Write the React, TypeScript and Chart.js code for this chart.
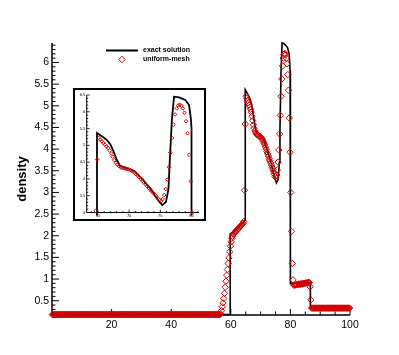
import React, { useEffect, useRef } from "react";
import { Chart, registerables } from "chart.js";

Chart.register(...registerables);

// ---------- data ----------
const xTicksMain = [20, 40, 60, 80, 100];
const yTicksMain = [0.5, 1, 1.5, 2, 2.5, 3, 3.5, 4, 4.5, 5, 5.5, 6];
const xTicksInset = [65, 70, 75, 80];
const yTicksInset = [3, 3.5, 4, 4.5, 5, 5.5, 6, 6.5];

// exact solution (polyline through read points)
const exactX = [0, 59.8, 59.8, 61.0, 62.5, 64.0, 64.85, 64.85, 65.8, 66.4, 67.0, 67.5, 68.0, 68.5, 69.5, 70.9, 72.2, 73.5, 74.6, 75.3, 75.9, 76.3, 76.5, 76.85, 77.2, 78.0, 79.0, 79.6, 79.9, 80.0, 80.0, 86.7, 86.7, 100];
const exactY = [0.18, 0.18, 2.04, 2.1, 2.19, 2.29, 2.36, 5.37, 5.25, 5.17, 5.03, 4.82, 4.58, 4.4, 4.33, 4.23, 3.98, 3.69, 3.37, 3.22, 3.31, 3.69, 4.48, 5.76, 6.45, 6.43, 6.35, 6.2, 5.8, 5.5, 0.9, 0.92, 0.33, 0.33];

// uniform mesh: cell width and the density read in each cell
const MESH_DX = 0.25;
const meshLeftStart = 0.125;
const meshLeft = [
  0.18, 0.18, 0.18, 0.18, 0.18, 0.18, 0.18, 0.18, 0.18, 0.18,
  0.18, 0.18, 0.18, 0.18, 0.18, 0.18, 0.18, 0.18, 0.18, 0.18,
  0.18, 0.18, 0.18, 0.18, 0.18, 0.18, 0.18, 0.18, 0.18, 0.18,
  0.18, 0.18, 0.18, 0.18, 0.18, 0.18, 0.18, 0.18, 0.18, 0.18,
  0.18, 0.18, 0.18, 0.18, 0.18, 0.18, 0.18, 0.18, 0.18, 0.18,
  0.18, 0.18, 0.18, 0.18, 0.18, 0.18, 0.18, 0.18, 0.18, 0.18,
  0.18, 0.18, 0.18, 0.18, 0.18, 0.18, 0.18, 0.18, 0.18, 0.18,
  0.18, 0.18, 0.18, 0.18, 0.18, 0.18, 0.18, 0.18, 0.18, 0.18,
  0.18, 0.18, 0.18, 0.18, 0.18, 0.18, 0.18, 0.18, 0.18, 0.18,
  0.18, 0.18, 0.18, 0.18, 0.18, 0.18, 0.18, 0.18, 0.18, 0.18,
  0.18, 0.18, 0.18, 0.18, 0.18, 0.18, 0.18, 0.18, 0.18, 0.18,
  0.18, 0.18, 0.18, 0.18, 0.18, 0.18, 0.18, 0.18, 0.18, 0.18,
  0.18, 0.18, 0.18, 0.18, 0.18, 0.18, 0.18, 0.18, 0.18, 0.18,
  0.18, 0.18, 0.18, 0.18, 0.18, 0.18, 0.18, 0.18, 0.18, 0.18,
  0.18, 0.18, 0.18, 0.18, 0.18, 0.18, 0.18, 0.18, 0.18, 0.18,
  0.18, 0.18, 0.18, 0.18, 0.18, 0.18, 0.18, 0.18, 0.18, 0.18,
  0.18, 0.18, 0.18, 0.18, 0.18, 0.18, 0.18, 0.18, 0.18, 0.18,
  0.18, 0.18, 0.18, 0.18, 0.18, 0.18, 0.18, 0.18, 0.18, 0.18,
  0.18, 0.18, 0.18, 0.18, 0.18, 0.18, 0.18, 0.18, 0.18, 0.18,
  0.18, 0.18, 0.18, 0.18, 0.18, 0.18, 0.18, 0.18, 0.18, 0.18,
  0.18, 0.18, 0.18, 0.18, 0.18, 0.18, 0.18, 0.18, 0.18, 0.18,
  0.18, 0.18, 0.18, 0.18, 0.18, 0.18, 0.18, 0.18, 0.18, 0.18,
  0.18, 0.18, 0.18, 0.18, 0.18, 0.18,
];
const meshMidStart = 56.625;
const meshMid = [
  0.20, 0.27, 0.36, 0.45, 0.55, 0.67, 0.81, 0.95, 1.09, 1.22,
  1.36, 1.49, 1.63, 1.76, 1.86, 1.94, 1.99, 2.03, 2.06, 2.08,
  2.10, 2.12, 2.14, 2.15, 2.17, 2.19, 2.21, 2.23, 2.25, 2.27,
  2.29, 2.33, 3.05, 4.58, 5.22, 5.17, 5.12, 5.07, 5.02, 4.97,
  4.92, 4.85, 4.76, 4.66, 4.56, 4.48, 4.42, 4.38, 4.35, 4.33,
  4.32, 4.31, 4.30, 4.29, 4.27, 4.25, 4.22, 4.18, 4.14, 4.10,
  4.05, 4.00, 3.94, 3.89, 3.84, 3.78, 3.73, 3.68, 3.63, 3.58,
  3.53, 3.48, 3.42, 3.37, 3.34, 3.40, 3.52, 3.70, 3.98, 4.35,
  4.78, 5.22, 5.62, 5.92, 6.10, 6.19, 6.21, 6.18, 6.10, 5.97,
  5.72, 5.36, 4.72, 3.93, 3.00, 2.10, 1.36, 0.98, 0.86, 0.86,
  0.86, 0.87, 0.87, 0.87, 0.88, 0.88, 0.88, 0.88, 0.89, 0.89,
  0.89, 0.90, 0.90, 0.90, 0.91, 0.91, 0.91, 0.92, 0.92, 0.92,
  0.82, 0.52,
];
const meshRightStart = 87.125;
const meshRight = [
  0.33, 0.33, 0.33, 0.33, 0.33, 0.33, 0.33, 0.33, 0.33, 0.33,
  0.33, 0.33, 0.33, 0.33, 0.33, 0.33, 0.33, 0.33, 0.33, 0.33,
  0.33, 0.33, 0.33, 0.33, 0.33, 0.33, 0.33, 0.33, 0.33, 0.33,
  0.33, 0.33, 0.33, 0.33, 0.33, 0.33, 0.33, 0.33, 0.33, 0.33,
  0.33, 0.33, 0.33, 0.33, 0.33, 0.33, 0.33, 0.33, 0.33, 0.33,
  0.33, 0.33,
];

// ---------- styling ----------
const RED = "#d40000";
const FONT = "'Liberation Sans', Arial, Helvetica, sans-serif";

function segmentPoints(start: number, values: number[]) {
  return values.map((y, i) => ({ x: start + i * MESH_DX, y }));
}
const meshPoints = [
  ...segmentPoints(meshLeftStart, meshLeft),
  ...segmentPoints(meshMidStart, meshMid),
  ...segmentPoints(meshRightStart, meshRight),
];
const exactPoints = exactX.map((x, i) => ({ x, y: exactY[i] }));

// axes drawn Tecplot-style: axis lines with inward major/minor ticks
const inwardAxes = {
  id: "inwardAxes",
  beforeDatasetsDraw(chart: any, _args: any, opts: any) {
    const { ctx, chartArea } = chart;
    const { left, right, top, bottom } = chartArea;
    const xs = chart.scales.x;
    const ys = chart.scales.y;
    ctx.save();
    ctx.strokeStyle = opts.color || "#000";
    ctx.lineWidth = opts.axisWidth;
    ctx.beginPath();
    ctx.moveTo(left, top);
    ctx.lineTo(left, bottom);
    ctx.lineTo(right, bottom);
    ctx.stroke();
    ctx.lineWidth = opts.tickWidth;
    ctx.beginPath();
    const isMajor = (list: number[], v: number) => list.some((m) => Math.abs(m - v) < 1e-6);
    const k0x = Math.ceil(xs.min / opts.xMinorStep - 1e-9);
    const k1x = Math.floor(xs.max / opts.xMinorStep + 1e-9);
    for (let k = k0x; k <= k1x; k++) {
      const v = k * opts.xMinorStep;
      const px = xs.getPixelForValue(v);
      const len = isMajor(opts.xMajor, v) ? opts.xMajorLen : opts.xMinorLen;
      ctx.moveTo(px, bottom);
      ctx.lineTo(px, bottom - len);
    }
    const k0y = Math.ceil(ys.min / opts.yMinorStep - 1e-9);
    const k1y = Math.floor(ys.max / opts.yMinorStep + 1e-9);
    for (let k = k0y; k <= k1y; k++) {
      const v = Math.round(k * opts.yMinorStep * 1000) / 1000;
      const py = ys.getPixelForValue(v);
      const len = isMajor(opts.yMajor, v) ? opts.yMajorLen : opts.yMinorLen;
      ctx.moveTo(left, py);
      ctx.lineTo(left + len, py);
    }
    ctx.stroke();
    ctx.restore();
  },
};

// Tecplot-like legend box in the upper part of the plot
const plotLegend = {
  id: "plotLegend",
  afterDraw(chart: any, _args: any, opts: any) {
    if (!opts || !opts.show) return;
    const { ctx } = chart;
    const exact = chart.data.datasets[1];
    const mesh = chart.data.datasets[0];
    ctx.save();
    ctx.strokeStyle = exact.borderColor;
    ctx.lineWidth = 2;
    ctx.beginPath();
    ctx.moveTo(106, 50.5);
    ctx.lineTo(138, 50.5);
    ctx.stroke();
    ctx.strokeStyle = mesh.pointBorderColor;
    ctx.lineWidth = 1;
    ctx.beginPath();
    const cx = 122, cy = 59.5, r = 3.3;
    ctx.moveTo(cx, cy - r);
    ctx.lineTo(cx + r, cy);
    ctx.lineTo(cx, cy + r);
    ctx.lineTo(cx - r, cy);
    ctx.closePath();
    ctx.stroke();
    ctx.fillStyle = "#000";
    ctx.font = `bold 7px ${FONT}`;
    ctx.textBaseline = "middle";
    ctx.textAlign = "left";
    ctx.fillText(exact.label, 143, 50.5);
    ctx.fillText(mesh.label, 143, 59.5);
    ctx.restore();
  },
};

function makeConfig(inset: boolean): any {
  const xTicks = inset ? xTicksInset : xTicksMain;
  const yTicks = inset ? yTicksInset : yTicksMain;
  const tickFont = { family: FONT, size: inset ? 4 : 10.5 };
  return {
    type: "scatter",
    data: {
      datasets: [
        {
          label: "uniform-mesh",
          data: meshPoints,
          showLine: false,
          pointStyle: "rectRot",
          pointRadius: inset ? 1.8 : 3.2,
          pointBorderWidth: 1,
          pointBorderColor: RED,
          pointBackgroundColor: "rgba(0,0,0,0)",
          borderColor: RED,
          order: 0,
          clip: inset ? 3 : false,
        },
        {
          label: "exact solution",
          data: exactPoints,
          showLine: true,
          borderColor: "#000",
          borderWidth: inset ? 1.8 : 1.6,
          pointRadius: 0,
          tension: 0,
          order: 1,
          clip: inset ? 3 : false,
        },
      ],
    },
    options: {
      responsive: false,
      animation: false,
      devicePixelRatio: 1,
      events: [],
      layout: {
        padding: inset
          ? { left: 0, top: 5, right: 4, bottom: 0 }
          : { left: 0, top: 43, right: 49, bottom: 20 },
      },
      plugins: {
        legend: { display: false },
        tooltip: { enabled: false },
        inwardAxes: inset
          ? {
              axisWidth: 1, tickWidth: 0.8,
              xMajor: xTicksInset, xMinorStep: 1, xMajorLen: 3, xMinorLen: 1.5,
              yMajor: yTicksInset, yMinorStep: 0.1, yMajorLen: 3, yMinorLen: 1.5,
            }
          : {
              axisWidth: 1.5, tickWidth: 1,
              xMajor: xTicksMain, xMinorStep: 5, xMajorLen: 6, xMinorLen: 3.5,
              yMajor: yTicksMain, yMinorStep: 0.1, yMajorLen: 7, yMinorLen: 3.5,
            },
        plotLegend: { show: !inset },
      },
      scales: {
        x: {
          type: "linear",
          min: inset ? 63.2 : 0,
          max: inset ? 81.2 : 100,
          afterBuildTicks: (s: any) => {
            s.ticks = xTicks.map((v) => ({ value: v }));
          },
          afterFit: (s: any) => {
            s.height = inset ? 6.5 : 20;
          },
          grid: { display: false, drawTicks: false },
          border: { display: false },
          ticks: {
            padding: inset ? 1 : 4,
            color: "#000",
            font: tickFont,
            autoSkip: false,
            maxRotation: 0,
            callback: (v: any) => String(v),
          },
        },
        y: {
          type: "linear",
          min: inset ? 3 : 0.17,
          max: inset ? 6.5 : 6.45,
          afterBuildTicks: (s: any) => {
            s.ticks = yTicks.map((v) => ({ value: v }));
          },
          afterFit: (s: any) => {
            s.width = inset ? 11.7 : 52;
          },
          grid: { display: false, drawTicks: false },
          border: { display: false },
          title: inset
            ? { display: false }
            : {
                display: true,
                text: "density",
                color: "#000",
                font: { family: FONT, size: 13, weight: "bold" },
                padding: { top: 15, bottom: 0 },
              },
          ticks: {
            padding: inset ? 1.5 : 3,
            color: "#000",
            font: tickFont,
            autoSkip: false,
            callback: (v: any) => String(v),
          },
        },
      },
    },
    plugins: [inwardAxes, plotLegend],
  };
}

export default function App() {
  const mainRef = useRef<HTMLCanvasElement>(null);
  const insetRef = useRef<HTMLCanvasElement>(null);

  useEffect(() => {
    const main = new Chart(mainRef.current as HTMLCanvasElement, makeConfig(false));
    const inset = new Chart(insetRef.current as HTMLCanvasElement, makeConfig(true));
    return () => {
      main.destroy();
      inset.destroy();
    };
  }, []);

  return (
    <div style={{ position: "absolute", left: 0, top: 0, width: 399, height: 355, background: "#fff" }}>
      <canvas ref={mainRef} width={399} height={355} style={{ position: "absolute", left: 0, top: 0, width: 399, height: 355 }} />
      <div
        style={{
          position: "absolute",
          left: 73,
          top: 88,
          width: 129,
          height: 129,
          border: "2px solid #000",
          background: "#fff",
        }}
      >
        <canvas ref={insetRef} width={129} height={129} style={{ display: "block", width: 129, height: 129 }} />
      </div>
    </div>
  );
}
